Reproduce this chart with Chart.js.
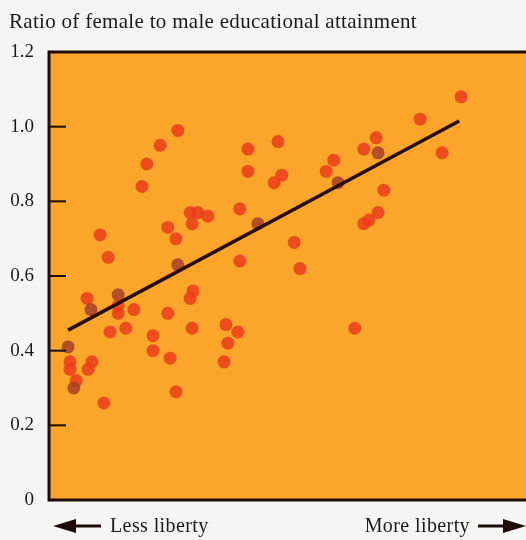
<!DOCTYPE html>
<html>
<head>
<meta charset="utf-8">
<script src="https://cdn.jsdelivr.net/npm/chart.js@4"></script>
<style>
  html, body { margin: 0; padding: 0; background: #f4f6f4; overflow: hidden; }
  #wrap { width: 526px; height: 540px; position: relative; overflow: hidden; }
</style>
</head>
<body>
<div id="wrap"><canvas id="c" width="526" height="540"></canvas></div>
<script>
// Liberty index (arbitrary 0-100 scale, left = less liberty) and ratio values
const redX = [86.4, 77.8, 82.4, 68.6, 66.0, 59.7, 58.1, 70.2, 69.0, 66.0, 67.1, 64.1,
  27.0, 23.3, 20.5, 19.5, 41.7, 48.0, 41.7, 48.8, 47.2, 29.6, 31.2, 33.3, 30.0, 40.0,
  24.9, 26.6, 51.4, 40.0, 52.6, 30.2, 29.6, 24.9, 30.0, 21.8, 21.8, 25.4, 37.1, 39.6,
  37.5, 36.7, 26.6, 10.7, 12.4, 8.0, 14.5, 14.5, 17.8, 12.8, 16.1, 4.4, 4.4, 9.0, 8.2,
  5.7, 11.5];
const redY = [1.08, 1.02, 0.93, 0.97, 0.94, 0.91, 0.88, 0.83, 0.77, 0.74, 0.75, 0.46,
  0.99, 0.95, 0.90, 0.84, 0.94, 0.96, 0.88, 0.87, 0.85, 0.77, 0.77, 0.76, 0.74, 0.78,
  0.73, 0.70, 0.69, 0.64, 0.62, 0.56, 0.54, 0.50, 0.46, 0.44, 0.40, 0.38, 0.47, 0.45,
  0.42, 0.37, 0.29, 0.71, 0.65, 0.54, 0.52, 0.50, 0.51, 0.45, 0.46, 0.37, 0.35, 0.37, 0.35,
  0.32, 0.26];
const darkX = [69.0, 60.6, 43.8, 27.0, 8.8, 14.5, 4.0, 5.2];
const darkY = [0.93, 0.85, 0.74, 0.63, 0.51, 0.55, 0.41, 0.30];
const fitX = [4.0, 86.0];
const fitY = [0.455, 1.015];
const yTicks = [0, 0.2, 0.4, 0.6, 0.8, 1.0, 1.2];
const titleText = 'Ratio of female to male educational attainment';
const leftLabel = 'Less liberty';
const rightLabel = 'More liberty';

const FONT = '"Liberation Serif", "DejaVu Serif", serif';
const INK = '#1c0d09';

const zip = (xs, ys) => xs.map((x, i) => ({ x, y: ys[i] }));

const decor = {
  id: 'decor',
  beforeDatasetsDraw(chart) {
    const { ctx, chartArea: a } = chart;
    ctx.save();
    ctx.fillStyle = '#fba52b';
    ctx.fillRect(a.left, a.top, chart.width - a.left, a.bottom - a.top);
    ctx.restore();
  },
  afterDraw(chart) {
    const { ctx, chartArea: a } = chart;
    const ys = chart.scales.y;
    ctx.save();
    // frame: left, top, bottom
    ctx.strokeStyle = INK;
    ctx.lineWidth = 3;
    ctx.beginPath();
    ctx.moveTo(chart.width + 2, a.top);
    ctx.lineTo(a.left, a.top);
    ctx.lineTo(a.left, a.bottom);
    ctx.lineTo(chart.width + 2, a.bottom);
    ctx.stroke();
    // inward tick marks
    ctx.lineWidth = 2;
    yTicks.forEach(v => {
      if (v <= 0 || v >= 1.2) return;
      const py = ys.getPixelForValue(v);
      ctx.beginPath();
      ctx.moveTo(a.left, py);
      ctx.lineTo(a.left + 17, py);
      ctx.stroke();
    });
    // title
    ctx.fillStyle = '#1a1a1a';
    ctx.font = '21px ' + FONT;
    if ('letterSpacing' in ctx) ctx.letterSpacing = '0.3px';
    ctx.textAlign = 'left';
    ctx.textBaseline = 'middle';
    ctx.fillText(titleText, 9, 22);
    // bottom labels with arrows
    const by = a.bottom + 27;
    ctx.font = '20px ' + FONT;
    if ('letterSpacing' in ctx) ctx.letterSpacing = '0.4px';
    ctx.fillText(leftLabel, 110, by);
    ctx.textAlign = 'right';
    ctx.fillText(rightLabel, 470, by);
    ctx.fillStyle = INK;
    ctx.lineWidth = 3;
    // left arrow
    ctx.beginPath(); ctx.moveTo(72, by - 1); ctx.lineTo(101, by - 1); ctx.stroke();
    ctx.beginPath(); ctx.moveTo(53, by - 1); ctx.lineTo(76, by - 8); ctx.lineTo(76, by + 6); ctx.closePath(); ctx.fill();
    // right arrow
    ctx.beginPath(); ctx.moveTo(478, by - 1); ctx.lineTo(506, by - 1); ctx.stroke();
    ctx.beginPath(); ctx.moveTo(526, by - 1); ctx.lineTo(503, by - 8); ctx.lineTo(503, by + 6); ctx.closePath(); ctx.fill();
    ctx.restore();
  }
};

new Chart(document.getElementById('c'), {
  type: 'scatter',
  data: {
    datasets: [
      {
        type: 'line',
        data: zip(fitX, fitY),
        borderColor: '#2a0c08',
        borderWidth: 3.5,
        pointRadius: 0,
        fill: false
      },
      {
        data: zip(darkX, darkY),
        backgroundColor: 'rgba(168,66,40,0.88)',
        pointRadius: 6.5,
        borderWidth: 0
      },
      {
        data: zip(redX, redY),
        backgroundColor: 'rgba(234,62,26,0.86)',
        pointRadius: 6.5,
        borderWidth: 0
      }
    ]
  },
  options: {
    responsive: false,
    animation: false,
    events: [],
    layout: { autoPadding: false, padding: { top: 52, bottom: 40, left: 0, right: 0 } },
    plugins: { legend: { display: false }, tooltip: { enabled: false }, title: { display: false } },
    scales: {
      x: { type: 'linear', min: 0, max: 100, display: false },
      y: {
        min: 0, max: 1.2,
        afterFit(s) { s.width = 49; },
        afterBuildTicks(s) { s.ticks = yTicks.map(v => ({ value: v })); },
        grid: { display: false, drawTicks: false },
        border: { display: false },
        ticks: {
          padding: 15,
          color: '#1a1a1a',
          font: { family: FONT, size: 19 },
          callback: v => (v === 0 ? '0' : v.toFixed(1))
        }
      }
    }
  },
  plugins: [decor]
});
</script>
</body>
</html>
